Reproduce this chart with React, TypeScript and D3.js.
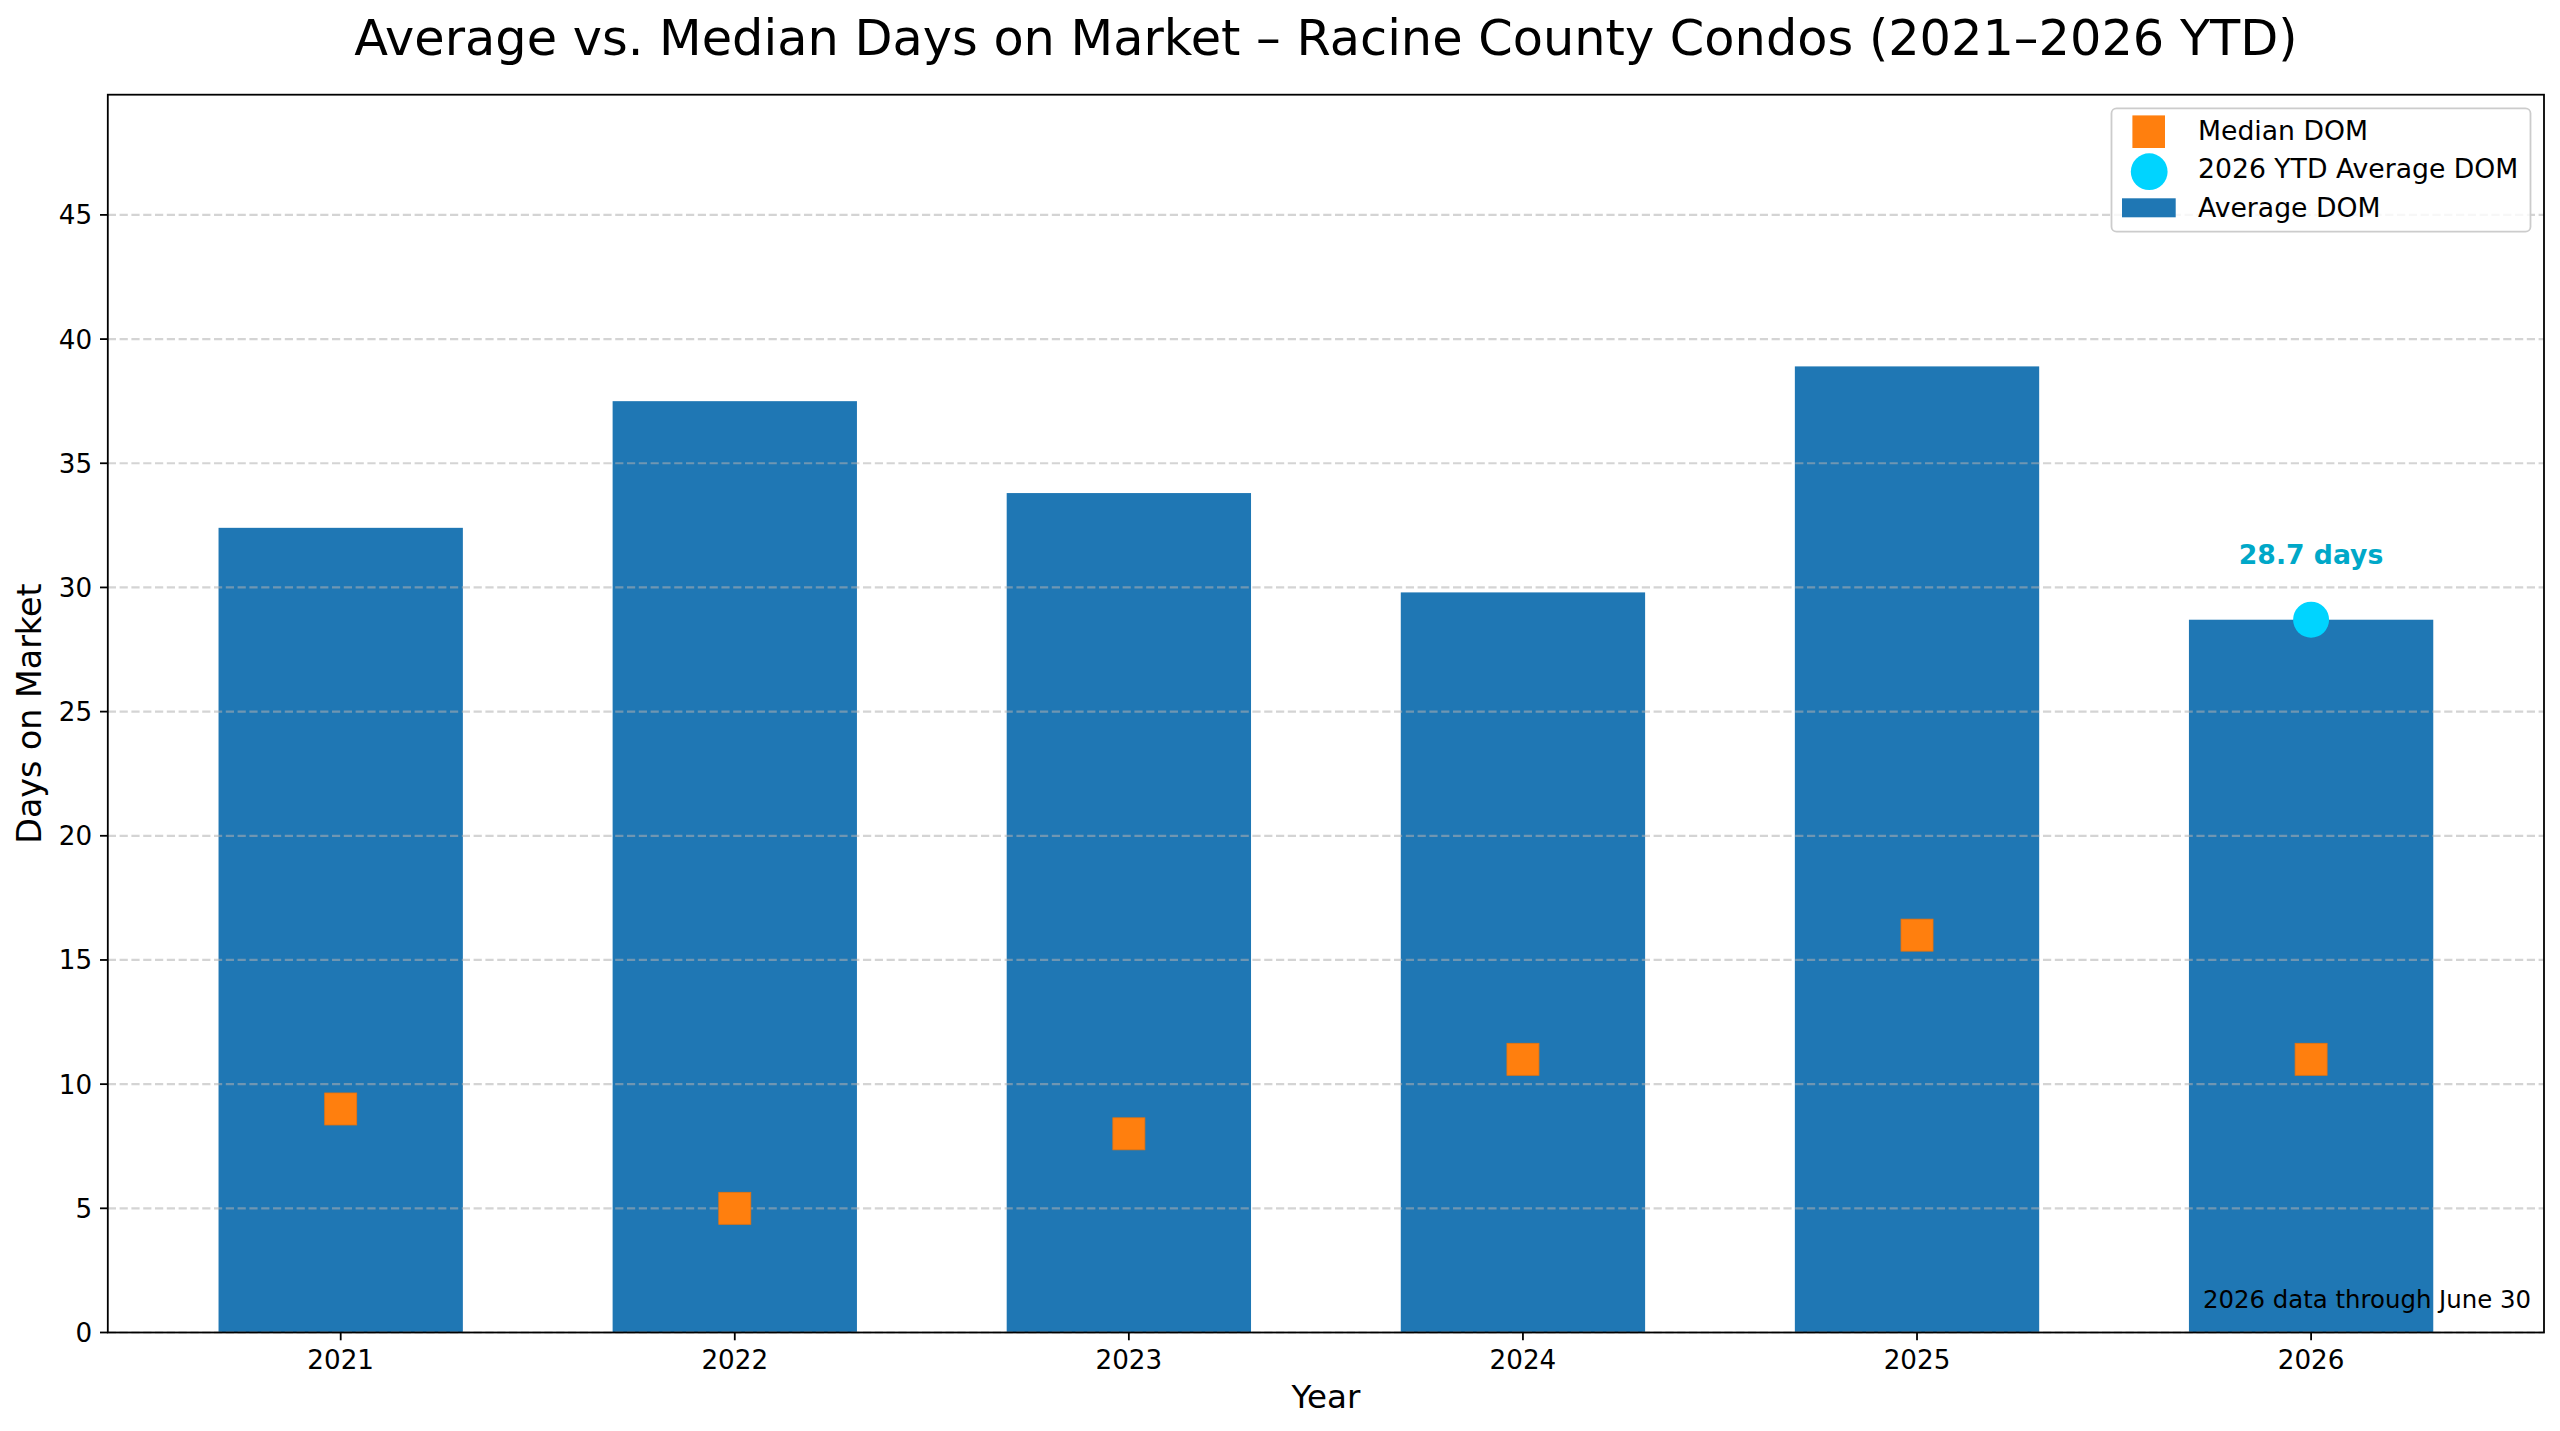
import React from 'react';
import * as d3 from 'd3';

const years = ['2021', '2022', '2023', '2024', '2025', '2026'];
const averageDom = [32.4, 37.5, 33.8, 29.8, 38.9, 28.7];
const medianDom = [9, 5, 8, 11, 16, 11];
const ytdYear = '2026';
const ytdAverage = 28.7;
const yTicks = [0, 5, 10, 15, 20, 25, 30, 35, 40, 45];
const legendLabels = ['Median DOM', '2026 YTD Average DOM', 'Average DOM'];

const W = 2560;
const H = 1431;
const M = { left: 107.8, right: 2544, top: 94.7, bottom: 1332.5 };
const FONT = '"DejaVu Sans", sans-serif';
const BAR = '#1f77b4';
const ORANGE = '#ff7f0e';
const CYAN = '#00d4ff';
const ANNO = '#00a8c8';
const barWidth = 0.62;

export default function App() {
  const n = years.length;
  const pad = (n - 1 + barWidth) * 0.05;
  const x = d3.scaleLinear().domain([-barWidth / 2 - pad, n - 1 + barWidth / 2 + pad]).range([M.left, M.right]);
  const y = d3.scaleLinear().domain([0, 49.84]).range([M.bottom, M.top]);
  const bw = x(barWidth) - x(0);
  const ytdIdx = years.indexOf(ytdYear);
  const cx = (M.left + M.right) / 2;
  const tickLen = 7.8;
  const sq = 32;

  return (
    <svg width={W} height={H} viewBox={`0 0 ${W} ${H}`} style={{ position: 'absolute', left: 0, top: 0, display: 'block', background: '#fff' }} fontFamily={FONT}>
      <rect x={0} y={0} width={W} height={H} fill="#fff" />
      {/* title */}
      <text x={cx} y={55} textAnchor="middle" fontSize={49.4} fill="#000">
        Average vs. Median Days on Market – Racine County Condos (2021–2026 YTD)
      </text>

      {/* bars */}
      {averageDom.map((v, i) => (
        <rect key={'b' + i} x={x(i) - bw / 2} y={y(v)} width={bw} height={y(0) - y(v)} fill={BAR} />
      ))}

      {/* grid */}
      {yTicks.map((t) => (
        <line key={'g' + t} x1={M.left} x2={M.right} y1={y(t)} y2={y(t)} stroke="#b0b0b0" strokeOpacity={0.55} strokeWidth={2.2} strokeDasharray="8.2,3.6" />
      ))}

      {/* median markers */}
      {medianDom.map((v, i) => (
        <rect key={'m' + i} x={x(i) - sq / 2} y={y(v) - sq / 2} width={sq} height={sq} fill={ORANGE} stroke="#e8730c" strokeWidth={0.8} />
      ))}

      {/* ytd marker */}
      <circle cx={x(ytdIdx)} cy={y(ytdAverage)} r={18} fill={CYAN} />
      <text x={x(ytdIdx)} y={564} textAnchor="middle" fontSize={26.67} fontWeight="bold" fill={ANNO}>
        {`${ytdAverage.toFixed(1)} days`}
      </text>

      {/* note */}
      <text x={2531} y={1308} textAnchor="end" fontSize={24.4} fill="#000">
        2026 data through June 30
      </text>

      {/* spines */}
      <rect x={M.left} y={M.top} width={M.right - M.left} height={M.bottom - M.top} fill="none" stroke="#000" strokeWidth={1.8} />

      {/* y ticks */}
      {yTicks.map((t) => (
        <g key={'yt' + t}>
          <line x1={M.left - tickLen} x2={M.left} y1={y(t)} y2={y(t)} stroke="#000" strokeWidth={1.8} />
          <text x={M.left - tickLen - 7.8} y={y(t)} dy="0.36em" textAnchor="end" fontSize={26.2} fill="#000">
            {t}
          </text>
        </g>
      ))}

      {/* x ticks */}
      {years.map((yr, i) => (
        <g key={'xt' + yr}>
          <line x1={x(i)} x2={x(i)} y1={M.bottom} y2={M.bottom + tickLen} stroke="#000" strokeWidth={1.8} />
          <text x={x(i)} y={1369} textAnchor="middle" fontSize={26.2} fill="#000">
            {yr}
          </text>
        </g>
      ))}

      {/* axis labels */}
      <text x={cx} y={1408} textAnchor="middle" fontSize={32.5} fill="#000">Year</text>
      <text transform={`translate(41, ${(M.top + M.bottom) / 2}) rotate(-90)`} textAnchor="middle" fontSize={33.3} fill="#000">
        Days on Market
      </text>

      {/* legend */}
      <g>
        <rect x={2111.5} y={108.3} width={419} height={123.4} rx={5} fill="#fff" fillOpacity={0.8} stroke="#cccccc" strokeWidth={1.8} />
        <rect x={2148.7 - 16.3} y={131.7 - 16.3} width={32.6} height={32.6} fill={ORANGE} />
        <circle cx={2149.2} cy={171.7} r={18.4} fill={CYAN} />
        <rect x={2122} y={198.3} width={53.7} height={19} fill={BAR} />
        {legendLabels.map((l, i) => (
          <text key={'l' + i} x={2198} y={[140, 178.2, 217][i]} fontSize={26.67} fill="#000">
            {l}
          </text>
        ))}
      </g>
    </svg>
  );
}
